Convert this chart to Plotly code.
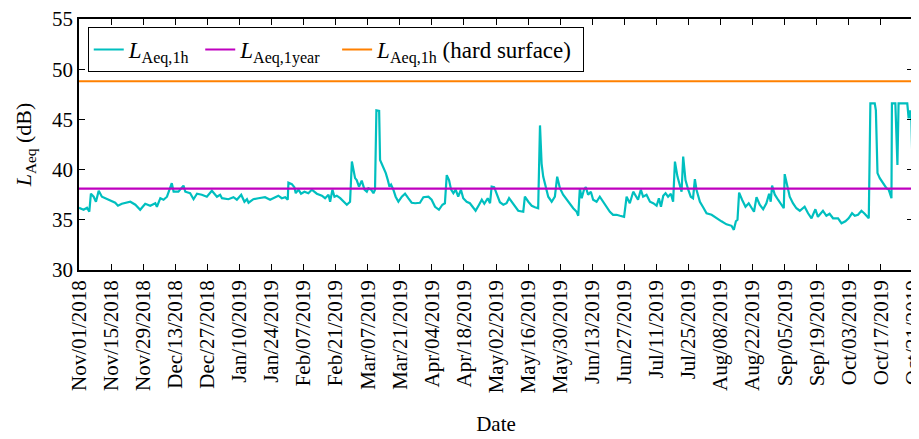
import pandas as pd
import plotly.graph_objects as go

START = "2018-11-01"

# days since Nov 01 2018 and hourly LAeq values
day_offsets = [
    0, 2.0, 3.5, 4.5, 5.2, 6.4, 7.4, 8.6, 10.0, 12.9, 15.8, 17.0, 18.7, 22.4, 24.6, 26.7, 28.9,
    31.1, 33.3, 34.0, 35.5, 36.9, 38.4, 40.5, 41.3, 43.4, 45.6, 46.4, 48.5, 50.0, 51.5, 53.6,
    55.8, 58.0, 60.2, 61.6,
    62.4, 65.2, 67.4, 68.9, 70.8, 72.2, 73.3, 74.0, 76.1, 78.3, 81.2, 83.4, 85.6, 87.0, 88.5,
    90.0, 91.1, 91.4, 92.9, 94.0, 94.6, 95.8, 96.9, 98.4, 100.1, 101.6, 103.8, 106.0, 107.4,
    108.9, 109.6, 110.6, 111.5, 112.5, 114.0, 115.4, 116.9, 118.3, 119.1, 120.5,
    121.2, 122.2, 123.4, 124.6, 125.6, 126.3, 127.5, 128.5, 129.2, 129.8, 131.0, 131.4, 132.1,
    132.8, 133.9, 134.8, 135.5, 136.2, 137.2, 138.2, 139.4, 140.9, 142.3, 143.7, 145.2, 146.7,
    148.8, 150.3, 152.5, 153.9, 155.4, 157.1, 158.6, 159.7, 160.5, 161.5, 162.4, 163.4, 164.4,
    165.5, 166.7, 167.7, 169.2, 170.6, 172.1, 173.1, 174.6, 175.8, 176.9, 178.4, 179.4, 180.1,
    181.2, 182.3, 183.7,
    185.2, 186.6, 187.7, 188.8, 190.3, 191.7, 193.9, 194.6, 196.1, 197.6, 199.0, 200.4, 201.2,
    201.9, 202.6, 203.7, 204.8, 206.3, 207.7, 208.7, 209.9, 211.3, 212.8, 214.3, 215.7, 217.2,
    217.9, 218.6, 219.4, 220.4, 221.2, 222.2, 223.4, 224.4, 225.9, 227.3, 228.8, 230.3, 231.7,
    233.1, 234.6, 236.1, 237.9, 239.0, 240.4, 241.9, 243.3,
    244.0, 245.2, 246.2, 247.7, 249.2, 250.6, 252.1, 253.1, 254.0, 255.0, 256.0, 257.1, 258.3,
    259.3, 260.1, 261.2, 262.2, 263.0, 263.7, 264.7, 265.9, 267.0, 268.0, 268.8, 269.5, 271.0,
    272.4, 273.9, 276.1, 278.2, 280.4, 282.6, 284.8, 285.8, 286.7, 287.4, 288.1, 289.4, 290.9,
    292.3, 293.5, 294.6, 295.7, 297.1, 298.6, 300.0, 301.2, 301.9, 302.5, 303.7,
    305.1, 306.6, 307.6, 308.0, 309.2, 310.2, 311.6, 313.1, 314.6, 316.7, 318.2, 319.7, 321.4,
    322.5, 324.7, 326.2, 327.6, 329.1, 331.3, 332.8, 334.5, 335.9, 337.4, 338.6, 340.0, 341.5,
    342.9, 344.7, 345.4, 347.3, 347.8, 348.5, 349.5, 350.9, 352.4, 353.4, 354.6, 354.8, 356.3,
    357.2, 357.7, 361.5, 362.1, 362.7, 363.3, 363.7, 364.0,
]
laeq_1h = [
    36.2, 36.0, 36.2, 35.8, 37.6, 37.3, 36.8, 37.9, 37.3, 37.0, 36.7, 36.4, 36.6, 36.8, 36.5, 36.0, 36.6,
    36.4, 36.65, 36.3, 37.15, 37.0, 37.3, 38.65, 37.8, 37.8, 38.4, 37.8, 37.65, 37.05, 37.6, 37.5,
    37.3, 37.9, 37.3, 37.5,
    37.15, 37.05, 37.25, 37.0, 37.5, 36.8, 37.05, 36.7, 37.05, 37.15, 37.25, 37.0, 37.25, 37.4, 37.15,
    37.25, 37.0, 38.7, 38.55, 38.25, 37.65, 38.0, 37.6, 37.8, 37.65, 38.0, 37.6, 37.4, 37.15,
    37.5, 36.8, 38.0, 37.3, 37.4, 37.15, 36.8, 36.5, 36.8, 40.8, 39.15,
    38.95, 38.3, 38.9, 38.0, 37.8, 38.15, 38.0, 37.65, 38.0, 45.9, 45.85, 40.95, 40.6,
    40.3, 39.65, 38.95, 38.3, 38.5, 38.0, 37.3, 36.8, 37.3, 37.6, 37.15, 36.7, 36.65,
    36.7, 37.25, 37.3, 37.0, 36.3, 36.0, 36.5, 36.65, 39.45, 38.95, 38.0, 37.65, 38.0,
    37.3, 38.0, 37.15, 36.8, 36.65, 36.25, 35.9, 36.5, 37.0, 36.6, 37.15, 36.65, 38.3,
    38.25, 37.65, 36.75,
    36.5, 36.65, 37.15, 36.8, 36.4, 35.9, 35.8, 37.3, 36.8, 36.4, 36.25, 36.15, 44.4,
    40.6, 39.3, 38.15, 37.3, 36.8, 37.3, 39.3, 38.15, 37.5, 37.0, 36.5, 36.15, 35.8,
    35.4, 38.15, 37.15, 38.0, 38.25, 37.5, 37.8, 37.0, 36.8, 37.3, 36.8, 36.25, 35.8,
    35.5, 35.5, 35.4, 35.3, 37.3, 36.65, 37.8, 37.3,
    37.0, 38.0, 37.3, 37.5, 36.8, 36.65, 36.4, 37.15, 36.3, 37.4, 37.65, 37.3, 37.6,
    36.8, 40.8, 39.3, 38.3, 37.8, 41.3, 38.95, 38.0, 37.3, 37.15, 39.05, 38.0, 36.8,
    36.25, 35.65, 35.5, 35.15, 34.85, 34.55, 34.4, 34.0, 34.85, 35.0, 37.7, 37.0, 36.3,
    36.65, 36.15, 35.8, 37.25, 36.5, 36.05, 36.65, 37.6, 36.8, 38.4, 37.5,
    37.0, 36.5, 36.15, 39.55, 38.3, 37.3, 36.65, 36.15, 35.9, 36.3, 35.65, 35.15, 36.05,
    35.3, 35.9, 35.4, 35.6, 35.15, 35.15, 34.65, 34.85, 35.15, 35.65, 35.4, 35.5, 35.9,
    35.6, 35.15, 46.6, 46.6, 45.9, 39.65, 39.15, 38.65, 38.15, 38.0, 37.15, 46.6, 46.6,
    40.45, 46.6, 46.6, 45.1, 45.9, 44.95, 41.1, 40.2,
]
laeq_1year = 38.1
laeq_hard_surface = 48.8
period_days = [0, 364]
tick_step_days = 14

start = pd.Timestamp(START)
dates = [start + pd.Timedelta(days=d) for d in day_offsets]
span = [start + pd.Timedelta(days=d) for d in period_days]
tickvals = list(pd.date_range(span[0], span[1], freq=f"{tick_step_days}D"))

serif = "Liberation Serif, Times New Roman, serif"
NB = "\u00a0"

fig = go.Figure()
fig.add_trace(go.Scatter(x=dates, y=laeq_1h, mode="lines",
                         line=dict(color="#00BFBF", width=2.2),
                         name="<i>L</i><sub>Aeq,1h</sub>" + NB))
fig.add_trace(go.Scatter(x=span, y=[laeq_1year] * 2, mode="lines",
                         line=dict(color="#BF00BF", width=2.2),
                         name="<i>L</i><sub>Aeq,1year</sub>" + NB * 2))
fig.add_trace(go.Scatter(x=span, y=[laeq_hard_surface] * 2, mode="lines",
                         line=dict(color="#FF8000", width=2.2),
                         name="<i>L</i><sub>Aeq,1h</sub> (hard surface)" + NB))

axis_common = dict(showline=True, linecolor="black", linewidth=1.5, mirror="allticks",
                   ticks="inside", ticklen=6, tickwidth=1, tickcolor="black",
                   showgrid=False, zeroline=False, ticklabeloverflow="allow",
                   tickfont=dict(family=serif, size=21, color="black"))

fig.update_xaxes(range=span, tickvals=tickvals, tickformat="%b/%d/%Y", tickangle=-90,
                 title=dict(text="Date", font=dict(family=serif, size=21, color="black"),
                            standoff=24),
                 **axis_common)
fig.update_yaxes(range=[30, 55], tickvals=[30, 35, 40, 45, 50, 55],
                 title=dict(text="<i>L</i><sub>Aeq</sub> (dB)",
                            font=dict(family=serif, size=22, color="black"), standoff=14),
                 **axis_common)

# page body has an 8px margin, so the figure is slightly smaller and offset
fig.update_layout(
    width=911, height=431,
    margin=dict(l=71, r=6, t=11, b=169, autoexpand=False),
    plot_bgcolor="white", paper_bgcolor="white",
    font=dict(family=serif, size=21, color="black"),
    legend=dict(orientation="h", x=0.0105, y=0.968, xanchor="left", yanchor="top",
                bordercolor="black", borderwidth=1, bgcolor="white",
                font=dict(family=serif, size=23, color="black"),
                itemwidth=30, tracegroupgap=0),
    showlegend=True,
)

fig.write_html("out.html")
